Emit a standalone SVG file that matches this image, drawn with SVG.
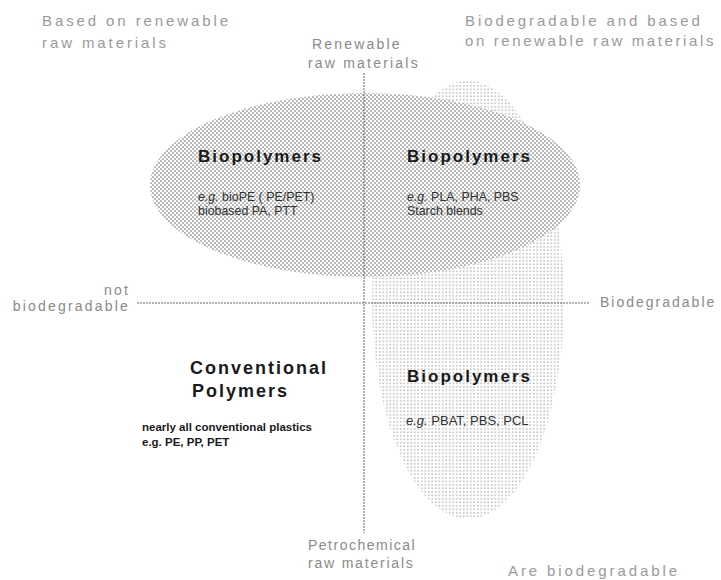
<svg xmlns="http://www.w3.org/2000/svg" width="721" height="580" viewBox="0 0 721 580">
  <style>
    .corner { font-family: "Liberation Sans", Arial, sans-serif; font-size: 15px; letter-spacing: 2.9px; fill: #9a9a9a; }
    .axis { font-family: "Liberation Sans", Arial, sans-serif; font-size: 14px; letter-spacing: 2.2px; fill: #8a8a8a; }
    .title { font-family: "Liberation Sans", Arial, sans-serif; font-size: 17px; font-weight: bold; letter-spacing: 2px; fill: #1a1a1a; }
    .big { font-family: "Liberation Sans", Arial, sans-serif; font-size: 18px; font-weight: bold; letter-spacing: 2px; fill: #1a1a1a; }
    .ex { font-family: "Liberation Sans", Arial, sans-serif; font-size: 12.4px; fill: #333; }
    .exb { font-family: "Liberation Sans", Arial, sans-serif; font-size: 11.5px; font-weight: bold; fill: #1a1a1a; }
    .it { font-style: italic; }
    .axisline { stroke: #666; stroke-width: 1; stroke-dasharray: 2 1; fill: none; }
  </style>
  <defs>
    <pattern id="dotsDark" width="4" height="4" patternUnits="userSpaceOnUse">
      <rect width="4" height="4" fill="#ffffff"/>
      <circle cx="1" cy="1" r="0.85" fill="#777"/>
      <circle cx="3" cy="3" r="0.85" fill="#777"/>
    </pattern>
    <pattern id="dotsLight" width="3.5" height="3.5" patternUnits="userSpaceOnUse">
      <rect width="3.5" height="3.5" fill="#ffffff"/>
      <circle cx="1.75" cy="1.75" r="0.75" fill="#999"/>
    </pattern>
  </defs>
  <rect width="721" height="580" fill="#ffffff"/>

  <g id="biodegradable-region">
    <ellipse cx="468" cy="300" rx="96" ry="219" fill="url(#dotsLight)"/>
  </g>
  <g id="renewable-region">
    <ellipse cx="365" cy="185" rx="215" ry="92" fill="url(#dotsDark)"/>
  </g>

  <g id="connectors">
    <line class="axisline" x1="364" y1="73" x2="364" y2="533"/>
    <line class="axisline" x1="137" y1="303" x2="590" y2="303"/>
  </g>

  <g id="corner-top-left">
    <text class="corner" x="42" y="26">Based on renewable</text>
    <text class="corner" x="42" y="48">raw materials</text>
  </g>
  <g id="corner-top-right">
    <text class="corner" x="465" y="26">Biodegradable and based</text>
    <text class="corner" x="465" y="46" style="letter-spacing:2.6px">on renewable raw materials</text>
  </g>
  <g id="corner-bottom-right">
    <text class="corner" x="508" y="576">Are biodegradable</text>
  </g>

  <g id="axis-top">
    <text class="axis" x="312" y="49">Renewable</text>
    <text class="axis" x="308" y="68">raw materials</text>
  </g>
  <g id="axis-bottom">
    <text class="axis" x="308" y="550" style="letter-spacing:1.5px">Petrochemical</text>
    <text class="axis" x="308" y="568" style="letter-spacing:1.8px">raw materials</text>
  </g>
  <g id="axis-left">
    <text class="axis" x="130" y="295" text-anchor="end">not</text>
    <text class="axis" x="130" y="311" text-anchor="end">biodegradable</text>
  </g>
  <g id="axis-right">
    <text class="axis" x="600" y="307" style="letter-spacing:2px">Biodegradable</text>
  </g>

  <g id="biopolymers-biobased">
    <text class="title" x="198" y="162">Biopolymers</text>
    <text class="ex" x="198" y="201"><tspan class="it">e.g.</tspan> bioPE ( PE/PET)</text>
    <text class="ex" x="198" y="215">biobased PA, PTT</text>
  </g>
  <g id="biopolymers-biobased-biodegradable">
    <text class="title" x="407" y="162">Biopolymers</text>
    <text class="ex" x="407" y="201"><tspan class="it">e.g.</tspan> PLA, PHA, PBS</text>
    <text class="ex" x="407" y="215">Starch blends</text>
  </g>
  <g id="conventional-polymers">
    <text class="big" x="190" y="374">Conventional</text>
    <text class="big" x="192" y="397">Polymers</text>
    <text class="exb" x="142" y="431">nearly all conventional plastics</text>
    <text class="exb" x="142" y="446">e.g. PE, PP, PET</text>
  </g>
  <g id="biopolymers-petro-biodegradable">
    <text class="title" x="407" y="382">Biopolymers</text>
    <text class="ex" x="406" y="425" style="font-size:13px"><tspan class="it">e.g.</tspan> PBAT, PBS, PCL</text>
  </g>
</svg>
